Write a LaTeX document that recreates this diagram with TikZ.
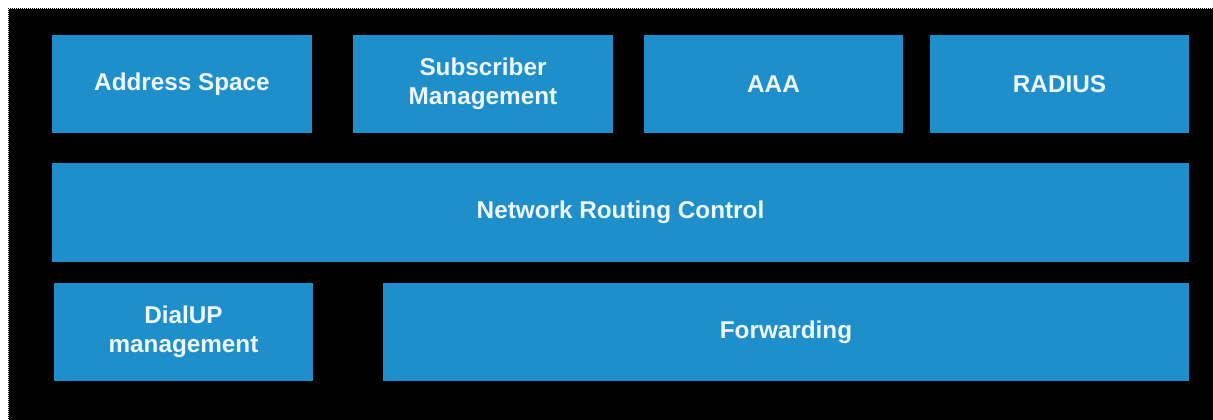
\documentclass[tikz,border=0pt]{standalone}
\usepackage{fontspec}
\setmainfont{Liberation Sans}
\definecolor{tileblue}{HTML}{1E8FCB}
\definecolor{tiletext}{HTML}{EEF7FC}
\tikzset{
  tile/.style={fill=tileblue, draw=none, inner sep=0pt, align=center,
    text=tiletext, font=\fontsize{24.3}{28.5}\selectfont\bfseries},
}
\begin{document}
\begin{tikzpicture}[x=1pt, y=-1pt]
  % page and dark panel
  \useasboundingbox (0,0) rectangle (1213,420);
  \fill[white] (0,0) rectangle (1213,420);
  \fill[black] (8,8) rectangle (1213,420);
  \draw[white, line width=1pt, dash pattern=on 1pt off 1pt] (8.5,420) -- (8.5,8.5) -- (1213,8.5);

  % top row
  \node[tile, minimum width=260pt, minimum height=98pt] (addr) at (182,84) {Address Space};
  \node[tile, minimum width=260pt, minimum height=98pt] (subs) at (483,84) {Subscriber\\Management};
  \node[tile, minimum width=259pt, minimum height=98pt] (aaa) at (773.5,84) {AAA};
  \node[tile, minimum width=259pt, minimum height=98pt] (radius) at (1059.5,84) {RADIUS};

  % middle layer
  \node[tile, minimum width=1137pt, minimum height=99pt] (nrc) at (620.5,212.5) {Network Routing Control};

  % bottom row
  \node[tile, minimum width=259pt, minimum height=98pt] (dial) at (183.5,332) {DialUP\\management};
  \node[tile, minimum width=806pt, minimum height=98pt] (fwd) at (786,332) {Forwarding};
\end{tikzpicture}
\end{document}
